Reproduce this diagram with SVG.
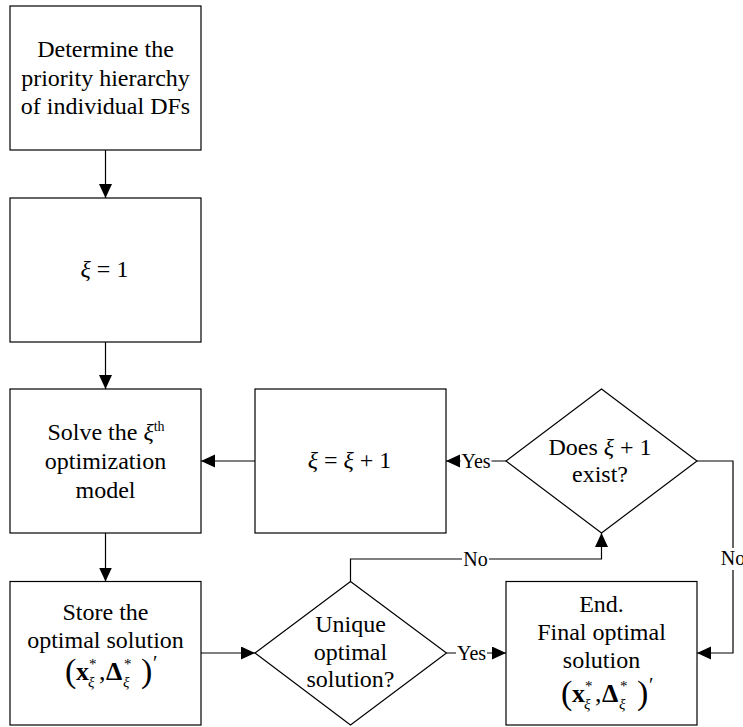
<svg xmlns="http://www.w3.org/2000/svg" width="743" height="727" viewBox="0 0 743 727">
<style>
  .box{fill:#fff;stroke:#000;stroke-width:1.2}
  .t{font-family:"Liberation Serif","Times New Roman",serif;font-size:24px;fill:#000;text-anchor:middle}
  .lbl{font-family:"Liberation Serif","Times New Roman",serif;font-size:20px;fill:#000;text-anchor:middle}
  .f{font-family:"Liberation Serif","Times New Roman",serif;fill:#000}
  .it{font-style:italic}
  .b{font-weight:bold}
  .con{fill:none;stroke:#000;stroke-width:1.2}
  .bg{fill:#fff}
</style>
<defs>
  <marker id="ah" markerUnits="userSpaceOnUse" markerWidth="15" markerHeight="14" refX="14" refY="6.5" orient="auto">
    <path d="M0,0 L14,6.5 L0,13 z" fill="#000"/>
  </marker>
</defs>
<rect width="743" height="727" fill="#fff"/>

<g id="connectors">
  <line class="con" x1="105.5" y1="150" x2="105.5" y2="198" marker-end="url(#ah)"/>
  <line class="con" x1="105.5" y1="342" x2="105.5" y2="389" marker-end="url(#ah)"/>
  <line class="con" x1="105.5" y1="533" x2="105.5" y2="581.5" marker-end="url(#ah)"/>
  <line class="con" x1="255" y1="461" x2="201" y2="461" marker-end="url(#ah)"/>
  <line class="con" x1="506" y1="461" x2="446" y2="461" marker-end="url(#ah)"/>
  <rect class="bg" x="460.5" y="450" width="31" height="22"/>
  <text class="lbl" x="476" y="468">Yes</text>
  <line class="con" x1="201" y1="653" x2="255" y2="653" marker-end="url(#ah)"/>
  <polyline class="con" points="350.5,581.5 350.5,559 601.5,559 601.5,533" marker-end="url(#ah)"/>
  <rect class="bg" x="462" y="549" width="27" height="20"/>
  <text class="lbl" x="475.5" y="566">No</text>
  <line class="con" x1="446.5" y1="653" x2="506" y2="653" marker-end="url(#ah)"/>
  <rect class="bg" x="456" y="642" width="31" height="22"/>
  <text class="lbl" x="471.5" y="660">Yes</text>
  <polyline class="con" points="697,461 733,461 733,653 697,653" marker-end="url(#ah)"/>
  <rect class="bg" x="720" y="548" width="26" height="22"/>
  <text class="lbl" x="733" y="565">No</text>
</g>

<g id="n1">
  <rect class="box" x="10" y="6" width="191" height="144"/>
  <text class="t" x="105.5" y="57">Determine the</text>
  <text class="t" x="105.5" y="85.5">priority hierarchy</text>
  <text class="t" x="105.5" y="114">of individual DFs</text>
</g>

<g id="n2">
  <rect class="box" x="10" y="198" width="191" height="144"/>
  <text class="t" x="104.5" y="277"><tspan class="it">ξ</tspan> = 1</text>
</g>

<g id="n3">
  <rect class="box" x="10" y="389" width="191" height="144"/>
  <text class="t" x="106" y="440">Solve the <tspan class="it">ξ</tspan><tspan font-size="14" dy="-9">th</tspan></text>
  <text class="t" x="105.5" y="469">optimization</text>
  <text class="t" x="105.5" y="497.5">model</text>
</g>

<g id="n4">
  <rect class="box" x="255" y="389" width="191" height="144"/>
  <text class="t" x="349.5" y="468"><tspan class="it">ξ</tspan> = <tspan class="it">ξ</tspan> + 1</text>
</g>

<g id="n5">
  <polygon class="box" points="601.5,389 697,461 601.5,533 506,461"/>
  <text class="t" x="600" y="455">Does <tspan class="it">ξ</tspan> + 1</text>
  <text class="t" x="600" y="482">exist?</text>
</g>

<g id="n6">
  <rect class="box" x="10" y="581.5" width="191" height="143.5"/>
  <text class="t" x="105.5" y="620">Store the</text>
  <text class="t" x="105.5" y="648">optimal solution</text>
  <g transform="translate(-494,-22)">
    <text class="f" x="559" y="704" font-size="34">(</text>
    <text class="f b" x="570" y="702" font-size="26">x</text>
    <text class="f" x="583" y="691" font-size="15">*</text>
    <text class="f it" x="582" y="709" font-size="15">ξ</text>
    <text class="f" x="593" y="702" font-size="26">,</text>
    <text class="f b" x="600" y="702" font-size="26">Δ</text>
    <text class="f" x="618" y="691" font-size="15">*</text>
    <text class="f it" x="617" y="709" font-size="15">ξ</text>
    <text class="f" x="635" y="704" font-size="34">)</text>
    <text class="f" x="647" y="692" font-size="20">′</text>
  </g>
</g>

<g id="n7">
  <polygon class="box" points="350.5,581.5 446.5,653 350.5,725 255,653"/>
  <text class="t" x="350.5" y="632">Unique</text>
  <text class="t" x="350.5" y="660">optimal</text>
  <text class="t" x="350.5" y="687">solution?</text>
</g>

<g id="n8">
  <rect class="box" x="506" y="581.5" width="191" height="143.5"/>
  <text class="t" x="601.5" y="612">End.</text>
  <text class="t" x="601.5" y="640">Final optimal</text>
  <text class="t" x="601.5" y="668">solution</text>
  <text class="f" x="561" y="704" font-size="34">(</text>
  <text class="f b" x="572" y="702" font-size="26">x</text>
  <text class="f" x="585" y="691" font-size="15">*</text>
  <text class="f it" x="584" y="709" font-size="15">ξ</text>
  <text class="f" x="595" y="702" font-size="26">,</text>
  <text class="f b" x="602" y="702" font-size="26">Δ</text>
  <text class="f" x="620" y="691" font-size="15">*</text>
  <text class="f it" x="619" y="709" font-size="15">ξ</text>
  <text class="f" x="637" y="704" font-size="34">)</text>
  <text class="f" x="649" y="692" font-size="20">′</text>
</g>
</svg>
